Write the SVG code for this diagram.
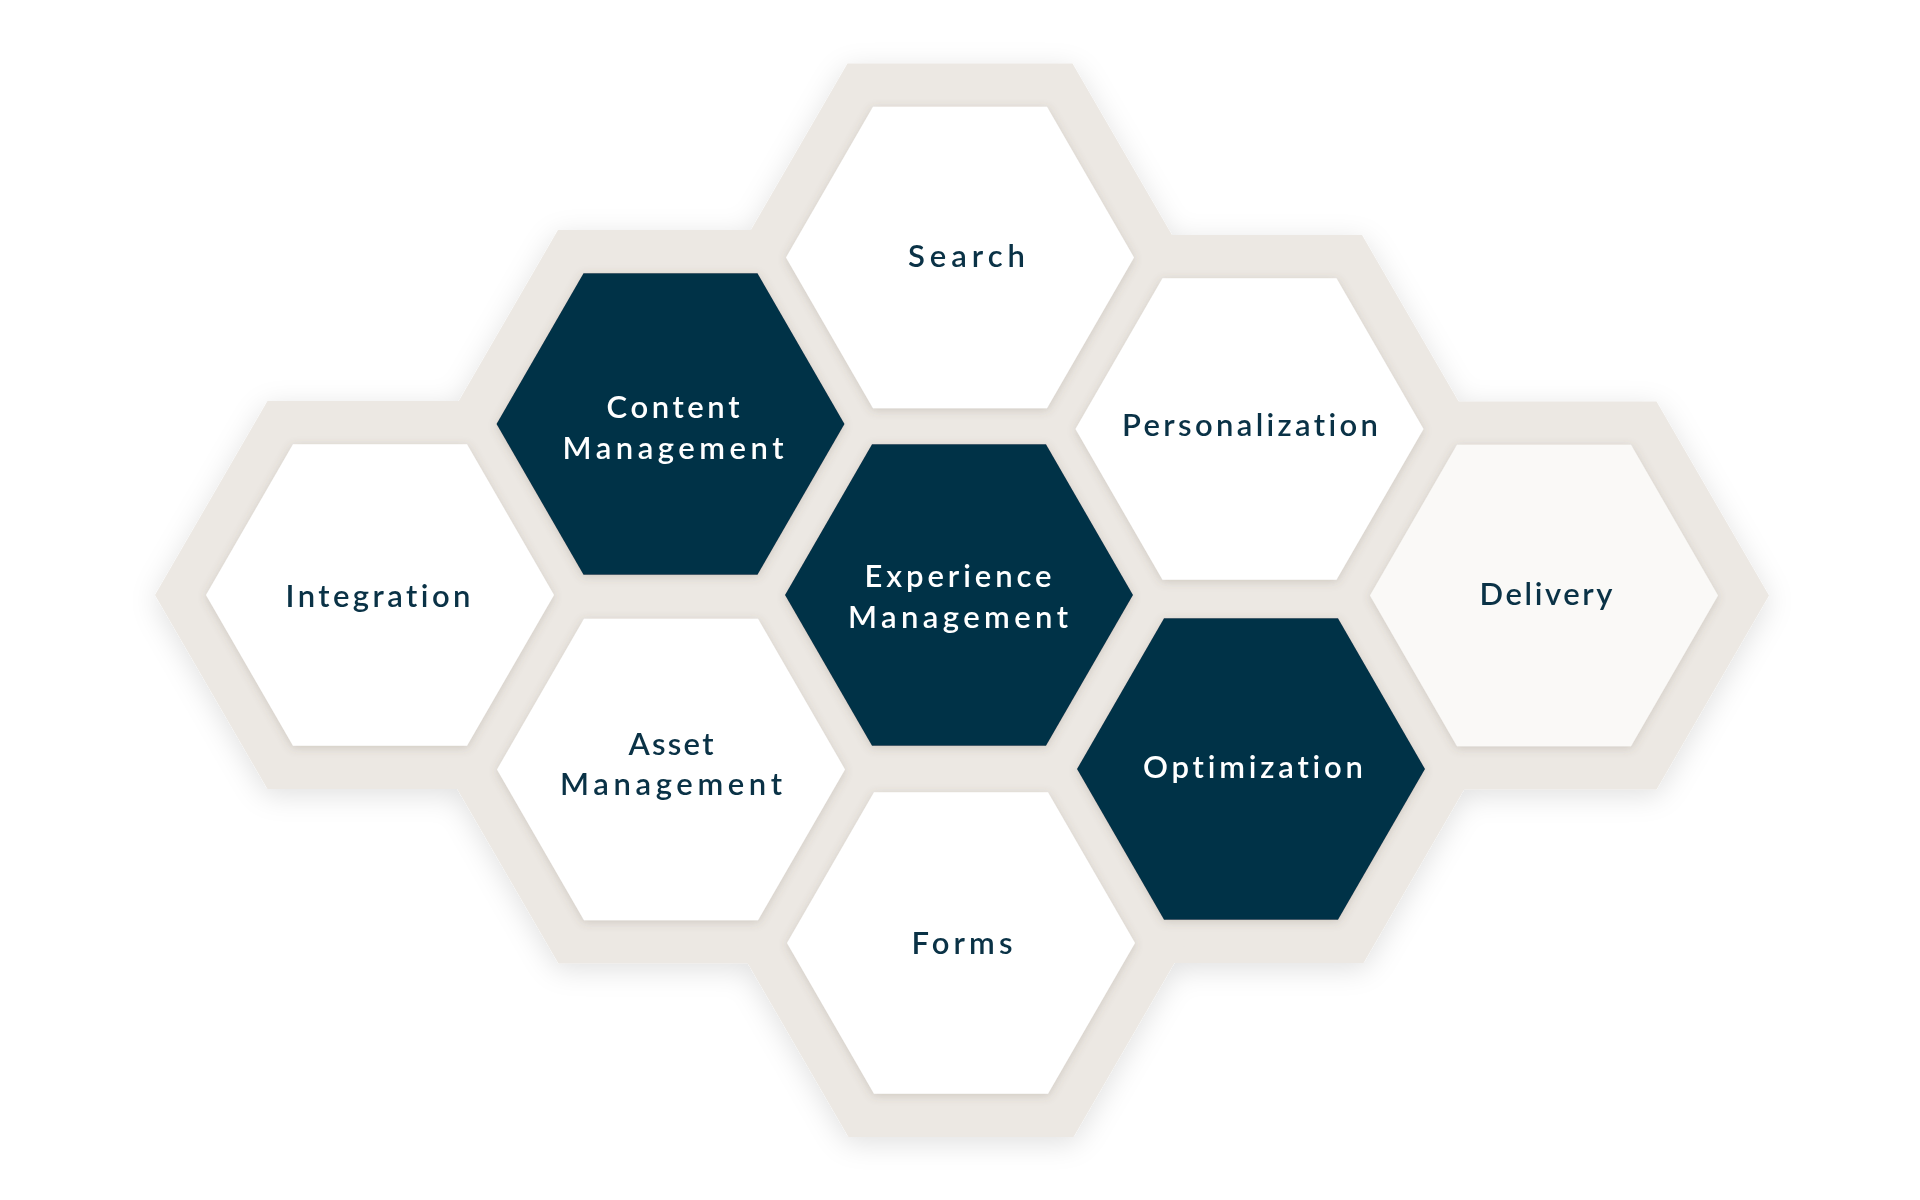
<svg xmlns="http://www.w3.org/2000/svg" xmlns:xlink="http://www.w3.org/1999/xlink" width="1920" height="1200" viewBox="0 0 1920 1200">
  <defs>
    <style>
      .frame { fill: #ECE8E3; }
      .light { fill: #FFFFFF; }
      .pale { fill: #FAF9F7; }
      .dark { fill: #063247; }
      .lbl { font-family: "Lato", "Liberation Sans", sans-serif; font-size: 31px; font-weight: 600; text-anchor: middle; font-variant-ligatures: none; font-feature-settings: "liga" 0, "clig" 0; }
      .lbl-dark { fill: #0A3246; }
      .lbl-light { fill: #FFFFFF; }
    </style>
    <path id="frameHex" d="M-225,0 L-112.5,-194 L112.5,-194 L225,0 L112.5,194 L-112.5,194 Z"/>
    <path id="innerHex" d="M-174,0 L-87,-150.7 L87,-150.7 L174,0 L87,150.7 L-87,150.7 Z"/>
    <filter id="outerShadow" x="-20%" y="-20%" width="140%" height="140%">
      <feDropShadow dx="0" dy="6" stdDeviation="14" flood-color="#000000" flood-opacity="0.12"/>
    </filter>
    <filter id="innerShadow" x="-20%" y="-20%" width="140%" height="140%">
      <feDropShadow dx="0" dy="2" stdDeviation="5" flood-color="#6b5d4f" flood-opacity="0.22"/>
    </filter>
  </defs>
  <rect width="1920" height="1200" fill="#FFFFFF"/>

  <g id="frames" class="frame" filter="url(#outerShadow)">
    <use xlink:href="#frameHex" transform="translate(960,257.5)"/>
    <use xlink:href="#frameHex" transform="translate(670.5,424)"/>
    <use xlink:href="#frameHex" transform="translate(1249.5,429)"/>
    <use xlink:href="#frameHex" transform="translate(380,595)"/>
    <use xlink:href="#frameHex" transform="translate(959,595)"/>
    <use xlink:href="#frameHex" transform="translate(1544,595.5)"/>
    <use xlink:href="#frameHex" transform="translate(671,769.5)"/>
    <use xlink:href="#frameHex" transform="translate(1251,769)"/>
    <use xlink:href="#frameHex" transform="translate(961,943)"/>
  </g>

  <g id="connectors"></g>

  <g id="node-search">
    <use xlink:href="#innerHex" class="light" filter="url(#innerShadow)" transform="translate(960,257.5)"/>
    <text class="lbl lbl-dark" x="966.5" y="266.5" textLength="117" lengthAdjust="spacing">Search</text>
  </g>
  <g id="node-content-management">
    <use xlink:href="#innerHex" class="dark" filter="url(#innerShadow)" transform="translate(670.5,424)"/>
    <text class="lbl lbl-light" x="673" y="417.5" textLength="133" lengthAdjust="spacing">Content</text>
    <text class="lbl lbl-light" x="673" y="458.5" textLength="221" lengthAdjust="spacing">Management</text>
  </g>
  <g id="node-personalization">
    <use xlink:href="#innerHex" class="light" filter="url(#innerShadow)" transform="translate(1249.5,429)"/>
    <text class="lbl lbl-dark" x="1250" y="436" textLength="256" lengthAdjust="spacing">Personalization</text>
  </g>
  <g id="node-integration">
    <use xlink:href="#innerHex" class="light" filter="url(#innerShadow)" transform="translate(380,595)"/>
    <text class="lbl lbl-dark" x="378" y="606.5" textLength="185" lengthAdjust="spacing">Integration</text>
  </g>
  <g id="node-experience-management">
    <use xlink:href="#innerHex" class="dark" filter="url(#innerShadow)" transform="translate(959,595)"/>
    <text class="lbl lbl-light" x="958" y="586.5" textLength="187" lengthAdjust="spacing">Experience</text>
    <text class="lbl lbl-light" x="958" y="628" textLength="220" lengthAdjust="spacing">Management</text>
  </g>
  <g id="node-delivery">
    <use xlink:href="#innerHex" class="pale" filter="url(#innerShadow)" transform="translate(1544,595.5)"/>
    <text class="lbl lbl-dark" x="1546" y="605" textLength="133" lengthAdjust="spacing">Delivery</text>
  </g>
  <g id="node-asset-management">
    <use xlink:href="#innerHex" class="light" filter="url(#innerShadow)" transform="translate(671,769.5)"/>
    <text class="lbl lbl-dark" x="671" y="755" textLength="85" lengthAdjust="spacing">Asset</text>
    <text class="lbl lbl-dark" x="671" y="795" textLength="222" lengthAdjust="spacing">Management</text>
  </g>
  <g id="node-optimization">
    <use xlink:href="#innerHex" class="dark" filter="url(#innerShadow)" transform="translate(1251,769)"/>
    <text class="lbl lbl-light" x="1253" y="777.5" textLength="220" lengthAdjust="spacing">Optimization</text>
  </g>
  <g id="node-forms">
    <use xlink:href="#innerHex" class="light" filter="url(#innerShadow)" transform="translate(961,943)"/>
    <text class="lbl lbl-dark" x="962" y="954" textLength="101" lengthAdjust="spacing">Forms</text>
  </g>
</svg>
